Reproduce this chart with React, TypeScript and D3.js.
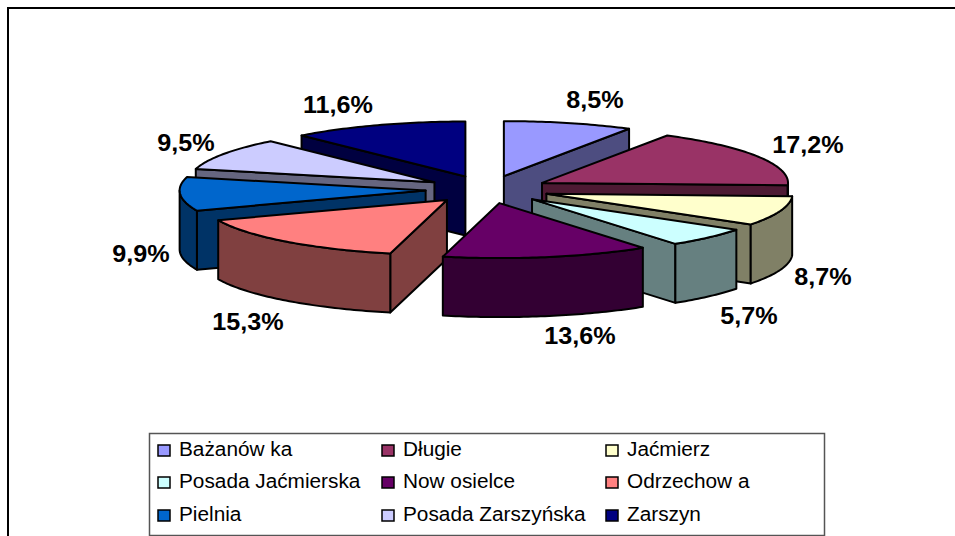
import React from "react";
import * as d3 from "d3";

const names = ["Bażanów ka", "Długie", "Jaćmierz", "Posada Jaćmierska", "Now osielce", "Odrzechow a", "Pielnia", "Posada Zarszyńska", "Zarszyn"];
const shares = [8.5, 17.2, 8.7, 5.7, 13.6, 15.3, 9.9, 9.5, 11.6];
const topColors = ["#9999FF", "#993366", "#FFFFCC", "#CCFFFF", "#660066", "#FF8080", "#0066CC", "#CCCCFF", "#000080"];
const sideColors = ["#4D4D80", "#4D1A33", "#808066", "#668080", "#330033", "#804040", "#003366", "#666680", "#000040"];
const drawOrder = [0, 8, 7, 1, 6, 2, 5, 3, 4];
const labelCenters: [number, number][] = [[595, 100], [808, 145], [823, 277], [749, 316], [580, 336], [248, 322], [141, 254], [186, 143], [338, 105]];
const legendCols = [158, 382, 606];
const legendRows = [456, 488, 521];

const cx = 487.5, cy = 189.5, rx = 246, ry = 55, depth = 59, burst = 62;
const tau = 2 * Math.PI;
const pie = d3.pie<number>().sort(null).startAngle(0).endAngle(tau);
const arcs = pie(shares);
const line = d3.line<[number, number]>();

function Slice({ i }: { i: number }) {
  const a = arcs[i];
  const mid = (a.startAngle + a.endAngle) / 2;
  const ax = cx + burst * Math.sin(mid);
  const ay = cy - burst * (ry / rx) * Math.cos(mid);
  const pt = (t: number, dz = 0): [number, number] => [ax + rx * Math.sin(t), ay - ry * Math.cos(t) + dz];
  const sweep = (s: number, e: number, dz = 0): [number, number][] => {
    const n = Math.max(2, Math.ceil(((e - s) * 180) / Math.PI));
    return d3.range(n + 1).map((k) => pt(s + ((e - s) * k) / n, dz));
  };
  const walls: [number, number][][] = [];
  const s = a.startAngle, e = a.endAngle;
  if (s > Math.PI && s < tau) walls.push([[ax, ay], [ax, ay + depth], pt(s, depth), pt(s)]);
  if (e > 0 && e < Math.PI) walls.push([[ax, ay], [ax, ay + depth], pt(e, depth), pt(e)]);
  const fs = Math.max(s, Math.PI / 2), fe = Math.min(e, (3 * Math.PI) / 2);
  if (fe > fs) walls.push([...sweep(fs, fe), ...sweep(fs, fe, depth).reverse()]);
  const top: [number, number][] = [[ax, ay], ...sweep(s, e)];
  return (
    <g stroke="#000" strokeWidth={2} strokeLinejoin="round">
      {walls.map((w, k) => (
        <path key={k} d={line(w) + "Z"} fill={sideColors[i]} />
      ))}
      <path d={line(top) + "Z"} fill={topColors[i]} />
    </g>
  );
}

export default function App() {
  return (
    <svg width={955} height={536} style={{ position: "absolute", left: 0, top: 0, display: "block" }} fontFamily="'Liberation Sans', Arial, sans-serif">
      <rect width={955} height={536} fill="#fff" />
      <path d="M8,536V8H955" fill="none" stroke="#000" strokeWidth={2} />
      {drawOrder.map((i) => (
        <Slice key={i} i={i} />
      ))}
      {shares.map((v, i) => (
        <text key={i} transform={`translate(${labelCenters[i][0]},${labelCenters[i][1] + 8}) scale(1.05,1)`} textAnchor="middle" fontSize={24} fontWeight="bold" fill="#000">
          {v.toFixed(1).replace(".", ",")}%
        </text>
      ))}
      <rect x={149.5} y={433.5} width={675} height={102} fill="#fff" stroke="#555" strokeWidth={1.5} />
      {names.map((n, i) => {
        const c = legendCols[i % 3], b = legendRows[Math.floor(i / 3)];
        return (
          <g key={n}>
            <rect x={c} y={b - 11} width={12} height={11} fill={topColors[i]} stroke="#000" strokeWidth={1.5} />
            <text transform={`translate(${c + 21},${b}) scale(1.04,1)`} fontSize={20} fill="#000">{n}</text>
          </g>
        );
      })}
    </svg>
  );
}
